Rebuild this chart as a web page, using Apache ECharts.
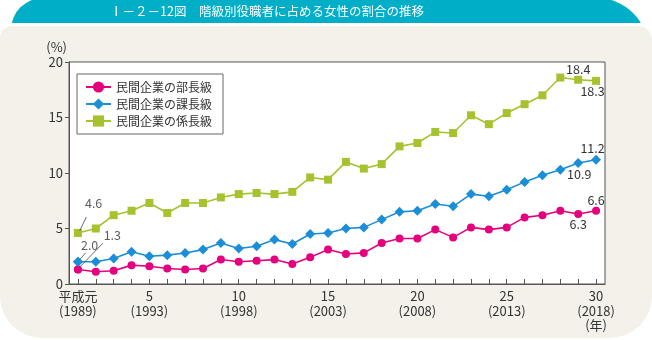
<!DOCTYPE html>
<html>
<head>
<meta charset="utf-8">
<script src="https://cdn.jsdelivr.net/npm/echarts@6/dist/echarts.min.js"></script>
<style>
  html, body { margin: 0; padding: 0; background: #fff; }
  #chart { width: 652px; height: 340px; }
</style>
</head>
<body>
<div id="chart"></div>
<script>
// 和暦（平成）と西暦
const heisei = ['平成元','2','3','4','5','6','7','8','9','10','11','12','13','14','15',
                '16','17','18','19','20','21','22','23','24','25','26','27','28','29','30'];
const seireki = ['1989','1990','1991','1992','1993','1994','1995','1996','1997','1998',
                 '1999','2000','2001','2002','2003','2004','2005','2006','2007','2008',
                 '2009','2010','2011','2012','2013','2014','2015','2016','2017','2018'];

// 民間企業の役職者に占める女性の割合（%）
const buchou = [1.3,1.1,1.2,1.7,1.6,1.4,1.3,1.4,2.2,2.0,2.1,2.2,1.8,2.4,3.1,
                2.7,2.8,3.7,4.1,4.1,4.9,4.2,5.1,4.9,5.1,6.0,6.2,6.6,6.3,6.6];
const kachou = [2.0,2.0,2.3,2.9,2.5,2.6,2.8,3.1,3.7,3.2,3.4,4.0,3.6,4.5,4.6,
                5.0,5.1,5.8,6.5,6.6,7.2,7.0,8.1,7.9,8.5,9.2,9.8,10.3,10.9,11.2];
const kakarichou = [4.6,5.0,6.2,6.6,7.3,6.4,7.3,7.3,7.8,8.1,8.2,8.1,8.3,9.6,9.4,
                    11.0,10.4,10.8,12.4,12.7,13.7,13.6,15.2,14.4,15.4,16.2,17.0,18.6,18.4,18.3];

const yTicks = [0, 5, 10, 15, 20];
const seriesNames = ['民間企業の部長級', '民間企業の課長級', '民間企業の係長級'];
const titleText = 'Ⅰ－２－12図　階級別役職者に占める女性の割合の推移';

const FONT = "'Noto Sans CJK JP', 'Noto Sans', sans-serif";
const TEXT = '#333';
const COLORS = ['#e5007e', '#1c8ed8', '#a6c22e'];

// 末尾2点の数値ラベル（上 / 下）
function withEndLabels(values, upperIdx, lowerIdx, upperDx, lowerDx) {
  return values.map(function (v, i) {
    if (i === upperIdx) {
      return { value: v, label: { show: true, position: 'top', distance: 0, offset: [upperDx, 0] } };
    }
    if (i === lowerIdx) {
      return { value: v, label: { show: true, position: 'bottom', distance: 0, offset: [lowerDx, 0] } };
    }
    return v;
  });
}

const labelText = { fontSize: 12.5, color: TEXT, fontFamily: FONT,
  formatter: function (p) { return Number(p.value).toFixed(1); } };

function lineSeries(idx, values, symbol, size, upperIdx, lowerIdx, upperDx, lowerDx) {
  return {
    name: seriesNames[idx],
    type: 'line',
    data: withEndLabels(values, upperIdx, lowerIdx, upperDx, lowerDx),
    symbol: symbol,
    symbolSize: size,
    color: COLORS[idx],
    lineStyle: { width: 1.6, color: COLORS[idx] },
    itemStyle: { color: COLORS[idx] },
    label: Object.assign({ show: false }, labelText),
    emphasis: { disabled: true },
    z: 3
  };
}

// 平成元年の値：左上に離したラベル
function firstLabel(idx, values, symbol, size, dx, dy) {
  return {
    name: 'start-' + idx,
    type: 'scatter',
    data: [values[0]],
    symbol: symbol,
    symbolSize: size,
    itemStyle: { color: COLORS[idx] },
    label: Object.assign({ show: true, position: 'top' }, labelText),
    labelLayout: function (params) {
      const r = params.rect;
      return {
        x: r.x + r.width / 2 + dx,
        y: r.y + r.height / 2 + dy,
        align: 'center',
        verticalAlign: 'middle'
      };
    },
    emphasis: { disabled: true },
    silent: true,
    z: 4
  };
}

// 引出線（点からの相対位置）
const leaders = [
  { values: buchou, from: [1.8, -2.5], to: [25, -26.4] },
  { values: kachou, from: [1.8, -2.2], to: [7.7, -9] },
  { values: kakarichou, from: [1.8, -2.2], to: [8.4, -16] }
];

const background = [
  { type: 'rect', z: -20, silent: true,
    shape: { x: 11, y: -2, width: 637, height: 80, r: [32, 51, 0, 0] },
    style: { fill: '#00aec8' } },
  { type: 'rect', z: -19, silent: true,
    shape: { x: 0, y: 23, width: 652, height: 60 },
    style: { fill: '#fff' } },
  { type: 'rect', z: -18, silent: true,
    shape: { x: 0, y: 26, width: 652, height: 312, r: [12, 14, 42, 42] },
    style: { fill: '#f3f1e9' } },
  { type: 'text', z: 100, silent: true, left: 110, top: 5,
    style: { text: titleText, fill: '#fff', fontSize: 12.5, fontFamily: FONT } }
];

const chart = echarts.init(document.getElementById('chart'), null, { renderer: 'canvas' });

chart.setOption({
  animation: false,
  backgroundColor: '#fff',
  textStyle: { fontFamily: FONT, color: TEXT },
  graphic: background,
  legend: {
    data: seriesNames,
    orient: 'vertical',
    left: 77,
    top: 74,
    backgroundColor: '#fff',
    borderColor: '#666',
    borderWidth: 1,
    padding: [7, 11, 7, 8],
    itemWidth: 25,
    itemHeight: 14,
    itemGap: 5,
    textStyle: { fontSize: 12, color: TEXT, fontFamily: FONT },
    selectedMode: false
  },
  grid: {
    left: 69, right: 47, top: 62, bottom: 56,
    show: true, backgroundColor: '#fff', borderColor: '#555', borderWidth: 1,
    containLabel: false
  },
  xAxis: {
    type: 'category',
    data: heisei,
    boundaryGap: true,
    axisLine: { lineStyle: { color: '#555', width: 1 } },
    axisTick: { show: true, inside: true, length: 5, interval: 0, alignWithLabel: true,
                lineStyle: { color: '#555' } },
    axisLabel: {
      interval: function (i) { return i === 0 || (i + 1) % 5 === 0; },
      formatter: function (val, i) {
        const s = val + '\n(' + seireki[i] + ')';
        return i === heisei.length - 1 ? s + '\n(年)' : s;
      },
      fontSize: 13, lineHeight: 14.5, color: TEXT, margin: 5, fontFamily: FONT
    },
    splitLine: { show: false }
  },
  yAxis: {
    type: 'value',
    min: yTicks[0],
    max: yTicks[yTicks.length - 1],
    interval: yTicks[1] - yTicks[0],
    name: '(%)',
    nameLocation: 'end',
    nameGap: 8,
    nameTextStyle: { fontSize: 13, color: TEXT, align: 'right', padding: [0, 2, 0, 0], fontFamily: FONT },
    axisLine: { show: true, lineStyle: { color: '#555', width: 1 } },
    axisTick: { show: true, inside: false, length: 4, lineStyle: { color: '#555' } },
    axisLabel: { fontSize: 13, color: TEXT, margin: 6, fontFamily: FONT },
    splitLine: { show: false }
  },
  series: [
    lineSeries(0, buchou, 'circle', 8, 29, 28, 0, 0),
    lineSeries(1, kachou, 'diamond', 10, 29, 28, -3.5, 1),
    lineSeries(2, kakarichou, 'rect', 8, 28, 29, 0, -3.5),
    firstLabel(0, buchou, 'circle', 8, 34.4, -34.3),
    firstLabel(1, kachou, 'diamond', 10, 11.7, -16.7),
    firstLabel(2, kakarichou, 'rect', 8, 15.7, -30)
  ]
});

// 点の画面位置を軸から求めて引出線を追加
const leaderLines = leaders.map(function (l) {
  const p = chart.convertToPixel({ gridIndex: 0 }, [0, l.values[0]]);
  return {
    type: 'line', z: 50, silent: true,
    shape: { x1: p[0] + l.from[0], y1: p[1] + l.from[1], x2: p[0] + l.to[0], y2: p[1] + l.to[1] },
    style: { stroke: '#444', lineWidth: 0.8 }
  };
});
chart.setOption({ graphic: background.concat(leaderLines) });
</script>
</body>
</html>
